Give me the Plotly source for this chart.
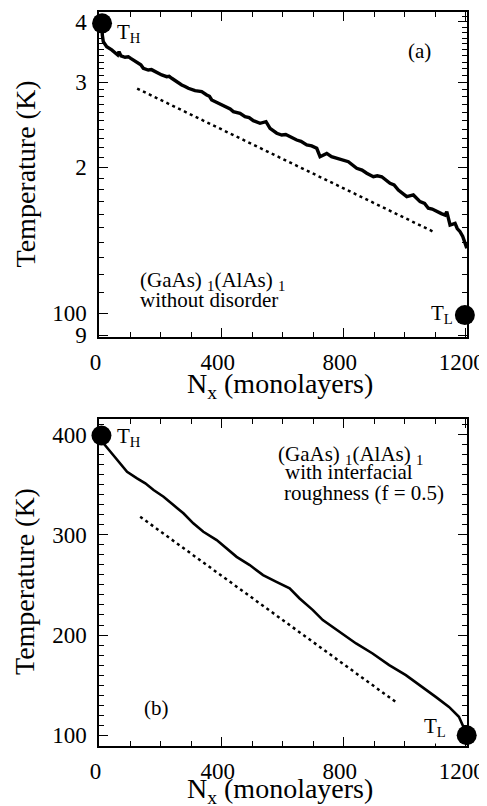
import plotly.graph_objects as go
import math

# ---------------- data ----------------
# Panel (a): (GaAs)1(AlAs)1 without disorder (log temperature axis)
a_x = [8, 8.8, 12.1, 23.3, 39.7, 50.5, 59.3, 63.6, 70.1, 83.3, 94.1, 102, 110.5, 118, 126.8, 135,
       143.2, 159.6, 170, 181.6, 192, 203.5, 219.9, 228, 236.3, 252.7, 269.1, 280, 290.7, 312.7,
       334.6, 351, 360, 367.4, 389, 405.4, 416.6, 428, 438.2, 460.2, 476.6, 490, 503.8, 525.7,
       545.4, 558.5, 580.5, 596.9, 610, 624.1, 646, 660, 678.8, 695, 711.6, 722.4, 744.4, 760,
       777.1, 795, 815.2, 842.6, 860, 875.4, 897.1, 910, 924.6, 951.8, 965, 979, 1006.6, 1028.2,
       1050.1, 1065, 1077.3, 1090, 1104.9, 1120, 1132.1, 1137.7, 1148.5, 1164.9, 1172, 1181.3,
       1190, 1197.7, 1203.3]
a_T = [397, 375.6, 363.8, 355.3, 349.8, 344.3, 341.5, 346.9, 339.9, 337.8, 338.7, 336, 333.4, 332, 329.2, 326,
       320.5, 317.9, 318.5, 315.4, 313, 310.5, 308.0, 308.5, 305.7, 300.7, 296.1, 294, 291.4, 288.1,
       286.8, 282.3, 280.5, 275.6, 271.4, 267.9, 265.0, 264, 260.8, 258.8, 254.7, 253.5, 249.8, 246.7,
       248.6, 240.9, 235.3, 233.3, 233.8, 231.4, 227.8, 226.5, 222.5, 221.5, 219.0, 210.4, 213.8, 210.5,
       208.8, 207.5, 205.5, 199.1, 197.5, 194.5, 191.3, 192.2, 191.3, 185.4, 184, 179.6, 174.0, 175.4,
       169.9, 168.5, 164.7, 164, 162.0, 160.5, 159.4, 162.0, 152.0, 153.2, 149.5, 147.3,
       144, 138.2, 136.1]
a_fit_x = [123, 1096]
a_fit_T = [291, 147]
a_TH = (8, 397)
a_TL = (1197, 99)

# Panel (b): with interfacial roughness (linear temperature axis)
b_x = [6, 8.5, 35.6, 62.6, 90, 122.7, 149.8, 176.8, 209.5, 242, 274.7, 307, 340, 383.7, 416.3,
       449, 492, 535.7, 579.4, 622.8, 655.5, 699, 731.5, 786, 840.5, 894.6, 949, 1003.6, 1057.8,
       1101.5, 1145, 1177.5, 1203]
b_T = [399, 392.8, 382.8, 372.9, 362.9, 356.3, 351.3, 344.6, 337.9, 329.6, 321.4, 311.4, 303, 294.7,
       286.4, 278, 269.8, 259.8, 253.1, 246.5, 236.5, 224.9, 214.9, 203.2, 191.6, 181.6, 170, 160,
       148.3, 138.3, 128.3, 118.4, 101]
b_fit_x = [133, 976]
b_fit_T = [318, 132]
b_TH = (6, 399)
b_TL = (1203, 100)

x_ticks = [0, 400, 800, 1200]
a_ytick_vals = [90, 100, 200, 300, 400]
a_ytick_text = ["9", "100", "2", "3", "4"]
a_yminor = [v for v in range(90, 420, 10) if v not in (100, 200, 300, 400, 90)]
b_ytick_vals = [100, 200, 300, 400]
b_yminor = [v for v in range(90, 420, 10) if v not in (100, 200, 300, 400)]

FONT = "Times New Roman"
fig = go.Figure()

fig.add_trace(go.Scatter(x=a_x, y=a_T, mode="lines", line=dict(color="black", width=3.4),
                         xaxis="x", yaxis="y", showlegend=False))
fig.add_trace(go.Scatter(x=a_fit_x, y=a_fit_T, mode="lines",
                         line=dict(color="black", width=2.5, dash="3px,3.5px"),
                         xaxis="x", yaxis="y", showlegend=False))
fig.add_trace(go.Scatter(x=[a_TH[0], a_TL[0]], y=[a_TH[1], a_TL[1]], mode="markers",
                         marker=dict(color="black", size=20), cliponaxis=False,
                         xaxis="x", yaxis="y", showlegend=False))
fig.add_trace(go.Scatter(x=b_x, y=b_T, mode="lines", line=dict(color="black", width=2.6),
                         xaxis="x2", yaxis="y2", showlegend=False))
fig.add_trace(go.Scatter(x=b_fit_x, y=b_fit_T, mode="lines",
                         line=dict(color="black", width=2.5, dash="3px,3.5px"),
                         xaxis="x2", yaxis="y2", showlegend=False))
fig.add_trace(go.Scatter(x=[b_TH[0], b_TL[0]], y=[b_TH[1], b_TL[1]], mode="markers",
                         marker=dict(color="black", size=20), cliponaxis=False,
                         xaxis="x2", yaxis="y2", showlegend=False))

axis_common = dict(showline=True, linecolor="black", linewidth=1.5, mirror="allticks",
                   ticks="inside", ticklen=9, tickwidth=1.3, tickcolor="black",
                   showgrid=False, zeroline=False, automargin=False,
                   tickfont=dict(family=FONT, size=23, color="black"))
minor_common = dict(ticklen=5, ticks="inside", tickwidth=1.3, tickcolor="black")
xr = [-2, 1204]
xextra = dict(ticklabelstandoff=4, ticklabelshift=-4, ticklabeloverflow="allow")
yextra = dict(ticklabelstandoff=6, ticklabeloverflow="allow")

# the page body adds an 8 px offset, so the figure is 8 px smaller than the window
fig.update_layout(
    width=479, height=798, plot_bgcolor="white", paper_bgcolor="white",
    font=dict(family=FONT, color="black"),
    margin=dict(l=91, r=20, t=4, b=60),
    xaxis=dict(domain=[0, 1], range=xr, anchor="y", tickvals=x_ticks,
               minor=dict(dtick=100, tick0=0, **minor_common), **xextra, **axis_common),
    yaxis=dict(domain=[0.5572, 1], type="log", range=[math.log10(89.2), math.log10(419)], anchor="x",
               tickvals=a_ytick_vals, ticktext=a_ytick_text,
               minor=dict(tickvals=a_yminor, **minor_common), **yextra, **axis_common),
    xaxis2=dict(domain=[0, 1], range=xr, anchor="y2", tickvals=x_ticks,
                minor=dict(dtick=100, tick0=0, **minor_common), **xextra, **axis_common),
    yaxis2=dict(domain=[0, 0.4455], range=[89.3, 415.5], anchor="x2", tickvals=b_ytick_vals,
                minor=dict(tickvals=b_yminor, **minor_common), **yextra, **axis_common),
)

afont = dict(family=FONT, size=21, color="black")
tfont = dict(family=FONT, size=28, color="black")
L = math.log10
ann = [
    dict(x=50, y=L(379), xref="x", yref="y", text="T<sub>H</sub>", xanchor="left", yanchor="middle"),
    dict(x=1165, y=L(99.5), xref="x", yref="y", text="T<sub>L</sub>", xanchor="right", yanchor="middle"),
    dict(x=1047, y=L(348), xref="x", yref="y", text="(a)", xanchor="center", yanchor="middle"),
    dict(x=126, y=L(116.5), xref="x", yref="y", text="(GaAs) <sub>1</sub>(AlAs) <sub>1</sub>",
         xanchor="left", yanchor="middle"),
    dict(x=126, y=L(106.4), xref="x", yref="y", text="without disorder", xanchor="left", yanchor="middle"),
    dict(x=50, y=397.5, xref="x2", yref="y2", text="T<sub>H</sub>", xanchor="left", yanchor="middle"),
    dict(x=1148, y=108.3, xref="x2", yref="y2", text="T<sub>L</sub>", xanchor="right", yanchor="middle",
         bgcolor="white", borderpad=3),
    dict(x=187, y=127.7, xref="x2", yref="y2", text="(b)", xanchor="center", yanchor="middle"),
    dict(x=578, y=379.6, xref="x2", yref="y2", text="(GaAs) <sub>1</sub>(AlAs) <sub>1</sub>",
         xanchor="left", yanchor="middle"),
    dict(x=601, y=362.6, xref="x2", yref="y2", text="with interfacial", xanchor="left", yanchor="middle"),
    dict(x=598, y=341.7, xref="x2", yref="y2", text="roughness (f = 0.5)", xanchor="left", yanchor="middle"),
]
for a in ann:
    a.update(showarrow=False, font=afont)
titles = [
    dict(x=0.492, y=0.4905, text="N<sub>x</sub> (monolayers)", textangle=0),
    dict(x=0.492, y=-0.0600, text="N<sub>x</sub> (monolayers)", textangle=0),
    dict(x=-0.2011, y=0.780, text="Temperature (K)", textangle=-90),
    dict(x=-0.2011, y=0.2248, text="Temperature (K)", textangle=-90),
]
for t in titles:
    t.update(xref="paper", yref="paper", xanchor="center", yanchor="middle", showarrow=False, font=tfont)
fig.update_layout(annotations=ann + titles)

fig.write_html("out.html")
